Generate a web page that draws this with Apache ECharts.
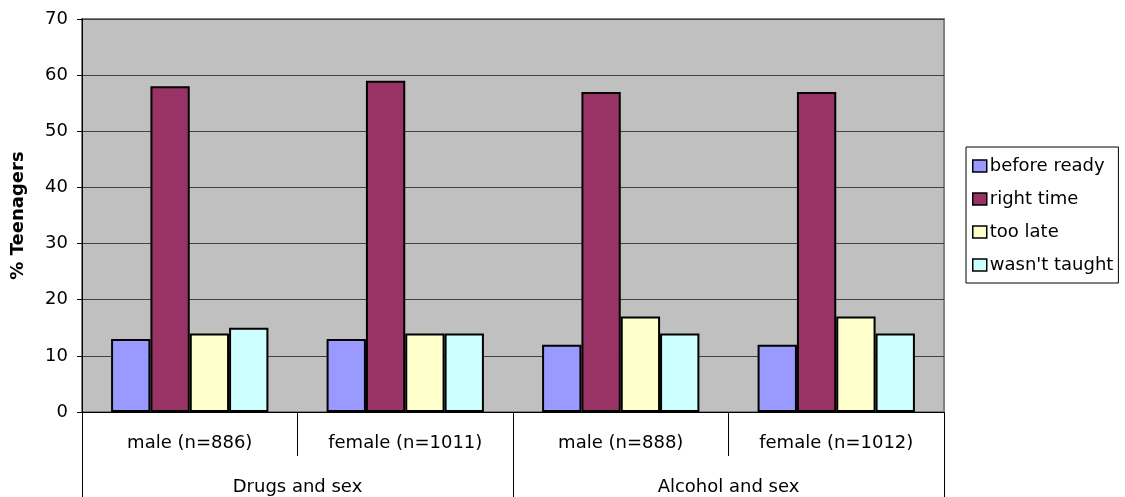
<!DOCTYPE html>
<html>
<head>
<meta charset="utf-8">
<script src="https://cdn.jsdelivr.net/npm/echarts@6/dist/echarts.min.js"></script>
<style>html,body{margin:0;padding:0;background:#fff;}#c{width:1125px;height:497px;}</style>
</head>
<body>
<div id="c"></div>
<script>
var categories = ['male (n=886)', 'female (n=1011)', 'male (n=888)', 'female (n=1012)'];
var groups = ['Drugs and sex', 'Alcohol and sex'];
var seriesNames = ['before ready', 'right time', 'too late', "wasn't taught"];
var beforeReady = [13, 13, 12, 12];
var rightTime = [58, 59, 57, 57];
var tooLate = [14, 14, 17, 17];
var wasntTaught = [15, 14, 14, 14];
var yTicks = [0, 10, 20, 30, 40, 50, 60, 70];
var colors = ['#9999ff', '#993366', '#ffffcc', '#ccffff'];
var values = [beforeReady, rightTime, tooLate, wasntTaught];

var font = '"DejaVu Sans", "Liberation Sans", Arial, sans-serif';
var chart = echarts.init(document.getElementById('c'), null, {renderer: 'canvas'});
var series = seriesNames.map(function (n, i) {
  return {
    name: n, type: 'bar', data: values[i], xAxisIndex: 0,
    barGap: '0%', barCategoryGap: '27%',
    itemStyle: {color: colors[i], borderColor: '#000', borderWidth: 2}
  };
});
chart.setOption({
  animation: false,
  backgroundColor: '#fff',
  grid: {left: 82, right: 181, top: 19, bottom: 85, show: true, backgroundColor: '#c0c0c0', borderColor: '#808080', borderWidth: 2},
  legend: {
    orient: 'vertical', left: 966, top: 147,
    data: seriesNames,
    itemWidth: 14, itemHeight: 12, itemGap: 15,
    padding: [10, 5, 9, 6],
    borderColor: '#000', borderWidth: 1, icon: 'rect',
    itemStyle: {borderWidth: 1.5, borderColor: '#000'},
    textStyle: {fontFamily: font, fontSize: 18, color: '#000', padding: [0, 0, 0, -2]}
  },
  xAxis: [{
    type: 'category', data: categories, position: 'bottom',
    axisLine: {show: true, lineStyle: {color: '#000', width: 1}},
    axisTick: {show: true, length: 44, interval: 0, lineStyle: {color: '#000'}},
    axisLabel: {fontFamily: font, fontSize: 18, color: '#000', margin: 22, interval: 0}
  }, {
    type: 'category', data: groups, position: 'bottom',
    axisLine: {show: false},
    axisTick: {show: true, length: 85, interval: 0, lineStyle: {color: '#000'}},
    axisLabel: {fontFamily: font, fontSize: 18, color: '#000', margin: 66, interval: 0}
  }],
  yAxis: {
    type: 'value', min: yTicks[0], max: yTicks[yTicks.length - 1], interval: yTicks[1] - yTicks[0],
    name: '% Teenagers', nameLocation: 'middle', nameGap: 55, nameRotate: 90,
    nameTextStyle: {fontFamily: font, fontSize: 18, fontWeight: 'bold', color: '#000'},
    axisLine: {show: true, lineStyle: {color: '#000'}},
    axisTick: {show: true, length: 5, lineStyle: {color: '#000'}},
    axisLabel: {fontFamily: font, fontSize: 18, color: '#000', margin: 14},
    splitLine: {show: true, lineStyle: {color: '#404040', width: 1}}
  },
  series: series
});
</script>
</body>
</html>
